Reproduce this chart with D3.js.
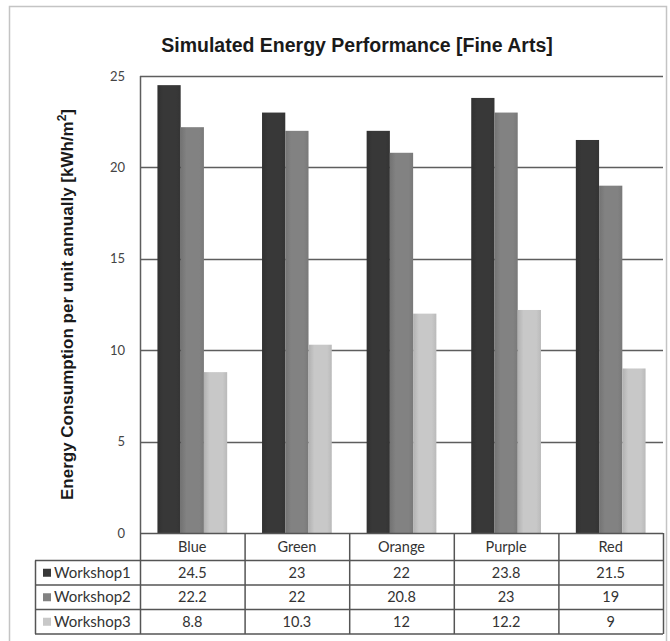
<!DOCTYPE html>
<html>
<head>
<meta charset="utf-8">
<script src="https://cdn.jsdelivr.net/npm/d3@7"></script>
<style>
  html, body { margin: 0; padding: 0; background: #fff; }
  svg { display: block; }
</style>
</head>
<body>
<svg id="chart" width="670" height="641"></svg>
<script>
// Energy use per colour scheme, one series per workshop
const categories = ["Blue", "Green", "Orange", "Purple", "Red"];
const seriesNames = ["Workshop1", "Workshop2", "Workshop3"];
const workshop1 = [24.5, 23, 22, 23.8, 21.5];
const workshop2 = [22.2, 22, 20.8, 23, 19];
const workshop3 = [8.8, 10.3, 12, 12.2, 9];
const yTicks = [0, 5, 10, 15, 20, 25];
const seriesColors = ["#383838", "#828282", "#c8c8c8"];

const seriesValues = [workshop1, workshop2, workshop3];
const rows = seriesNames.map((name, i) => ({
  name,
  color: seriesColors[i],
  values: seriesValues[i]
}));

const svg = d3.select("#chart");
const labelFont = "Lato, 'Open Sans', sans-serif";
const boldFont = "'Liberation Sans', Arial, sans-serif";

// Plot geometry
const plot = { left: 140, right: 663, top: 76, bottom: 533 };
const table = { left: 35, headerH: 27.5, rowH: 24.5 };

// Outer chart frame
svg.append("rect")
  .attr("x", 9.5).attr("y", 6.5)
  .attr("width", 657).attr("height", 650)
  .attr("fill", "#fff")
  .attr("stroke", "#c4c4c4").attr("stroke-width", 1.5);

// Title
svg.append("text")
  .attr("x", 357).attr("y", 52)
  .attr("text-anchor", "middle")
  .attr("font-family", boldFont)
  .attr("font-weight", "bold")
  .attr("font-size", 19.5)
  .attr("fill", "#1a1a1a")
  .text("Simulated Energy Performance [Fine Arts]");

const x0 = d3.scaleBand().domain(categories).range([plot.left, plot.right]).padding(0);
const x1 = d3.scaleBand().domain(seriesNames).range([0, x0.bandwidth()])
  .paddingInner(0).paddingOuter(0.75);
const y = d3.scaleLinear().domain([0, 25]).range([plot.bottom, plot.top]);

// Horizontal gridlines
svg.append("g")
  .selectAll("line")
  .data(yTicks.filter(d => d > 0))
  .join("line")
  .attr("x1", plot.left).attr("x2", plot.right)
  .attr("y1", d => Math.round(y(d)) + 0.5).attr("y2", d => Math.round(y(d)) + 0.5)
  .attr("stroke", "#5e5e5e").attr("stroke-width", 1.5);

// Y tick labels
svg.append("g")
  .selectAll("text")
  .data(yTicks)
  .join("text")
  .attr("x", 125)
  .attr("y", d => y(d) + 4.5)
  .attr("text-anchor", "end")
  .attr("font-family", labelFont)
  .attr("font-size", 13)
  .attr("fill", "#444")
  .text(d => d);

// Bar shading: slightly darker on the edges
const defs = svg.append("defs");
rows.forEach((r, i) => {
  const g = defs.append("linearGradient").attr("id", "grad" + i)
    .attr("x1", "0%").attr("x2", "100%").attr("y1", "0%").attr("y2", "0%");
  const c = d3.color(r.color);
  g.append("stop").attr("offset", "0%").attr("stop-color", c.darker(0.35));
  g.append("stop").attr("offset", "25%").attr("stop-color", c);
  g.append("stop").attr("offset", "80%").attr("stop-color", c);
  g.append("stop").attr("offset", "100%").attr("stop-color", c.darker(0.2));
});

// Bars
const groups = svg.append("g")
  .selectAll("g")
  .data(categories)
  .join("g")
  .attr("transform", d => `translate(${x0(d)},0)`);

groups.selectAll("rect")
  .data((cat, ci) => rows.map((r, si) => ({ series: r.name, si, value: r.values[ci] })))
  .join("rect")
  .attr("x", d => x1(d.series))
  .attr("width", x1.bandwidth())
  .attr("y", d => y(d.value))
  .attr("height", d => y(0) - y(d.value))
  .attr("fill", d => `url(#grad${d.si})`);

// Y axis line
svg.append("line")
  .attr("x1", plot.left + 0.5).attr("x2", plot.left + 0.5)
  .attr("y1", plot.top).attr("y2", plot.bottom)
  .attr("stroke", "#5e5e5e").attr("stroke-width", 1.5);

// Data table under the plot
const lineColor = "#555";
const tableTop = plot.bottom;
const headerBottom = tableTop + table.headerH;
const tableBottom = headerBottom + rows.length * table.rowH;
const tg = svg.append("g");

// horizontal rules
tg.append("line")
  .attr("x1", plot.left).attr("x2", plot.right)
  .attr("y1", tableTop + 0.5).attr("y2", tableTop + 0.5)
  .attr("stroke", lineColor).attr("stroke-width", 1.5);
d3.range(rows.length + 1).forEach(i => {
  const yy = headerBottom + i * table.rowH;
  tg.append("line")
    .attr("x1", table.left).attr("x2", plot.right)
    .attr("y1", yy).attr("y2", yy)
    .attr("stroke", lineColor).attr("stroke-width", 1.5);
});
// vertical rules
tg.append("line")
  .attr("x1", table.left + 0.5).attr("x2", table.left + 0.5)
  .attr("y1", headerBottom).attr("y2", tableBottom)
  .attr("stroke", lineColor).attr("stroke-width", 1.5);
const colEdges = categories.map(c => x0(c)).concat([plot.right]);
colEdges.forEach(xx => {
  tg.append("line")
    .attr("x1", xx + 0.5).attr("x2", xx + 0.5)
    .attr("y1", tableTop).attr("y2", tableBottom)
    .attr("stroke", lineColor).attr("stroke-width", 1.5);
});

// category header
tg.selectAll("text.cat")
  .data(categories)
  .join("text")
  .attr("class", "cat")
  .attr("x", d => x0(d) + x0.bandwidth() / 2)
  .attr("y", tableTop + table.headerH / 2 + 5)
  .attr("text-anchor", "middle")
  .attr("font-family", labelFont)
  .attr("font-size", 14.5)
  .attr("fill", "#333")
  .text(d => d);

// series rows
rows.forEach((r, ri) => {
  const rowMid = headerBottom + ri * table.rowH + table.rowH / 2;
  tg.append("rect")
    .attr("x", 43).attr("y", rowMid - 4)
    .attr("width", 8).attr("height", 8)
    .attr("fill", r.color);
  tg.append("text")
    .attr("x", 54).attr("y", rowMid + 5)
    .attr("font-family", labelFont)
    .attr("font-size", 15)
    .attr("fill", "#333")
    .text(r.name);
  tg.selectAll(null)
    .data(r.values)
    .join("text")
    .attr("x", (d, i) => x0(categories[i]) + x0.bandwidth() / 2)
    .attr("y", rowMid + 5)
    .attr("text-anchor", "middle")
    .attr("font-family", labelFont)
    .attr("font-size", 14.5)
    .attr("fill", "#333")
    .text(d => d);
});

// Y axis title
svg.append("text")
  .attr("transform", `translate(73,${(plot.top + plot.bottom) / 2}) rotate(-90)`)
  .attr("text-anchor", "middle")
  .attr("font-family", boldFont)
  .attr("font-weight", "bold")
  .attr("font-size", 17)
  .attr("fill", "#1a1a1a")
  .text("Energy Consumption per unit annually [kWh/m")
  .append("tspan")
  .attr("baseline-shift", "super")
  .attr("font-size", 12)
  .text("2")
  .select(function () { return this.parentNode; })
  .append("tspan")
  .text("]");
</script>
</body>
</html>
